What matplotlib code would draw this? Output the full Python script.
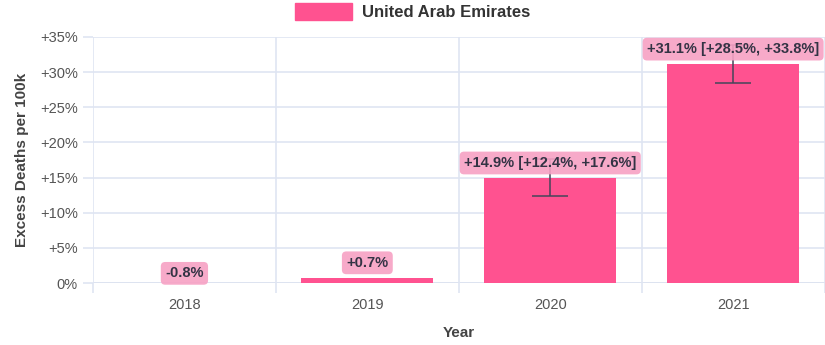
import matplotlib
matplotlib.use('Agg')
import matplotlib.pyplot as plt
from matplotlib.patches import Patch

years = ['2018', '2019', '2020', '2021']
excess = [-0.8, 0.7, 14.9, 31.1]
ci_low = [None, None, 12.4, 28.5]
ci_high = [None, None, 17.6, 33.8]
yticks = [0, 5, 10, 15, 20, 25, 30, 35]

bar_color = '#ff5290'
box_color = '#f7a1c4'
grid_color = '#dfe5f2'
text_color = '#555555'

plt.rcParams['font.family'] = ['Liberation Sans', 'DejaVu Sans']

fig = plt.figure(figsize=(8.25, 3.45), dpi=100)
ax = fig.add_axes([0.1127, 0.1797, 0.8868, 0.7131])

x = list(range(len(years)))
ax.bar(x, excess, width=0.72, color=bar_color, zorder=2)

for i, v in enumerate(excess):
    if ci_low[i] is not None:
        ax.errorbar(i, v, yerr=[[v - ci_low[i]], [ci_high[i] - v]],
                    fmt='none', ecolor='#45455a', elinewidth=1.1,
                    capsize=13, capthick=1.1, zorder=4)
        label = f'{v:+.1f}% [{ci_low[i]:+.1f}%, {ci_high[i]:+.1f}%]'
    else:
        label = f'{v:+.1f}%'
    ax.annotate(label, (i, v), xytext=(0, 11), textcoords='offset points',
                ha='center', va='center', fontsize=10.5, fontweight='bold',
                color='#333344', zorder=5, annotation_clip=False,
                bbox=dict(boxstyle='round,pad=0.3,rounding_size=0.3',
                          fc=box_color, ec='none', alpha=0.9))

ax.set_xlim(-0.5, 3.5)
ax.set_ylim(0, 35)
ax.set_xticks(x)
ax.set_xticklabels(years)
ax.set_yticks(yticks)
ax.set_yticklabels([('+' if t > 0 else '') + f'{t}%' for t in yticks])
ax.set_xticks([-0.5, 0.5, 1.5, 2.5, 3.5], minor=True)

ax.grid(axis='y', color=grid_color, linewidth=1.2, zorder=0)
ax.grid(axis='x', which='minor', color=grid_color, linewidth=1.2, zorder=0)
ax.tick_params(axis='y', length=7, color=grid_color, width=1.2,
               labelsize=10.5, labelcolor=text_color, pad=4)
ax.tick_params(axis='x', which='major', length=0, labelsize=10.5,
               labelcolor=text_color, pad=11)
ax.tick_params(axis='x', which='minor', length=7, color=grid_color, width=1.2)
for s in ax.spines.values():
    s.set_visible(False)
ax.axhline(0, color='#d0d6e4', linewidth=1.2, zorder=1)

ax.set_xlabel('Year', fontsize=11, fontweight='bold', color='#444444', labelpad=10)
ax.set_ylabel('Excess Deaths per 100k', fontsize=11, fontweight='bold',
              color='#444444', labelpad=8)

fig.legend(handles=[Patch(color=bar_color, label='United Arab Emirates')],
           loc='upper center', bbox_to_anchor=(0.5, 1.035), frameon=False,
           prop={'size': 12, 'weight': 'bold'}, handlelength=3.4,
           handleheight=1.2, handletextpad=0.6, labelcolor='#333333')

fig.savefig('out.png', dpi=100)
